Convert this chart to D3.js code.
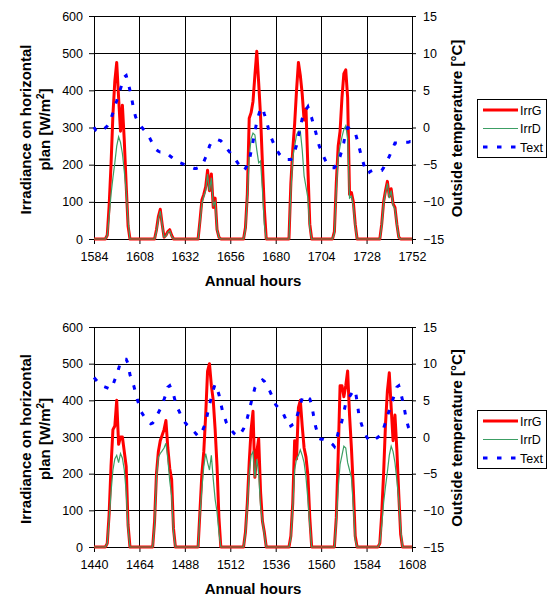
<!DOCTYPE html>
<html>
<head>
<meta charset="utf-8">
<script src="https://cdn.jsdelivr.net/npm/d3@7"></script>
<style>
  body { margin: 0; background: #fff; }
  svg { font-family: Arial, "Liberation Sans", sans-serif; }
</style>
</head>
<body>
<svg id="chart" width="548" height="596"></svg>
<script>
// Hourly readings, one row per day, starting at annual hour 1440 and ending at 1752.
const firstHour = 1440;

const irrG = [
  0,0,0,0,0,0,0,10,90,220,320,330,400,280,300,300,260,220,60,0,0,0,0,0,
  0,0,0,0,0,0,0,0,70,200,260,290,305,320,345,270,215,185,50,0,0,0,0,0,
  0,0,0,0,0,0,0,0,100,200,260,360,480,500,440,400,320,220,80,0,0,0,0,0,
  0,0,0,0,0,0,0,0,40,120,230,320,370,190,260,295,150,70,40,0,0,0,0,0,
  0,0,0,0,0,0,0,0,30,120,290,240,380,400,330,270,245,195,80,0,0,0,0,0,
  0,0,0,0,0,0,0,0,80,250,440,440,410,440,480,360,270,160,30,0,0,0,0,0,
  0,0,0,0,0,0,0,10,90,200,335,425,475,380,290,360,265,145,35,0,0,0,0,0,
  0,0,0,0,0,0,0,0,0,25,60,80,40,5,10,20,25,10,0,0,0,0,0,0,
  0,0,0,0,0,0,0,0,50,105,120,140,185,130,175,85,110,25,5,0,0,0,0,0,
  0,0,0,0,0,0,0,0,30,120,325,340,370,440,505,420,330,200,80,0,0,0,0,0,
  0,0,0,0,0,0,0,0,150,240,310,400,475,440,390,320,350,190,40,0,0,0,0,0,
  0,0,0,0,0,0,0,20,150,250,290,380,445,455,380,120,125,100,40,0,0,0,0,0,
  0,0,0,0,0,0,0,0,40,100,130,155,115,135,95,85,40,5,0,0,0,0,0,0,
  0
];

const irrD = [
  0,0,0,0,0,0,0,10,75,150,210,240,250,230,255,242,210,150,50,0,0,0,0,0,
  0,0,0,0,0,0,0,0,60,190,245,255,262,270,283,240,180,140,40,0,0,0,0,0,
  0,0,0,0,0,0,0,0,90,160,220,255,230,210,250,185,130,95,40,0,0,0,0,0,
  0,0,0,0,0,0,0,0,35,110,200,250,260,190,240,200,110,70,35,0,0,0,0,0,
  0,0,0,0,0,0,0,0,25,110,210,240,250,265,250,230,190,130,60,0,0,0,0,0,
  0,0,0,0,0,0,0,0,70,160,225,250,275,270,230,210,190,110,20,0,0,0,0,0,
  0,0,0,0,0,0,0,10,60,120,165,205,250,275,260,230,182,130,48,0,0,0,0,0,
  0,0,0,0,0,0,0,0,0,20,55,75,38,5,8,18,22,8,0,0,0,0,0,0,
  0,0,0,0,0,0,0,0,45,95,115,130,175,130,165,90,100,25,5,0,0,0,0,0,
  0,0,0,0,0,0,0,0,25,110,220,270,285,280,240,205,210,130,40,0,0,0,0,0,
  0,0,0,0,0,0,0,0,130,220,250,280,290,290,240,170,140,110,30,0,0,0,0,0,
  0,0,0,0,0,0,0,15,130,220,250,275,295,305,270,110,115,90,35,0,0,0,0,0,
  0,0,0,0,0,0,0,0,35,95,125,150,110,130,90,80,38,5,0,0,0,0,0,0,
  0
];

const tempOut = [
  8.1,7.8,7.5,7.2,7.0,6.9,6.8,6.7,6.6,6.5,7.1,7.8,8.5,9.3,10.2,10.5,10.6,10.6,10.0,8.5,7.7,7.0,6.0,5.0,
  4.2,3.4,3.0,2.6,2.3,2.0,1.8,1.9,2.3,2.8,3.3,3.8,4.4,5.1,5.9,6.8,7.0,6.4,5.8,4.8,4.0,3.5,2.9,2.3,
  2.0,1.7,1.5,1.3,1.0,0.7,0.4,0.1,0.2,0.7,1.3,1.9,3.2,4.4,5.4,6.4,7.2,6.6,5.8,4.6,3.4,2.7,1.9,1.4,
  1.1,0.8,0.5,0.3,0.1,0.4,0.7,1.1,1.8,2.6,3.6,4.7,5.7,6.7,7.1,7.4,7.6,7.8,7.6,7.2,6.7,6.2,5.6,5.0,
  4.4,4.1,3.8,3.5,3.2,2.6,2.0,1.4,1.5,1.7,1.8,2.6,3.5,4.4,5.3,5.7,5.5,5.4,5.2,4.4,2.9,1.5,0.6,-0.2,
  -0.3,-0.3,-0.4,-0.4,-0.6,-0.8,-1.0,-1.3,-0.5,0.6,1.4,2.2,3.4,4.6,5.0,5.5,5.9,6.3,6.4,4.8,2.9,2.0,1.2,0.6,
  0.05,-0.4,-0.6,-0.6,-0.4,-0.2,-0.05,0.2,0.6,1.2,2.0,2.9,3.6,4.4,5.2,6.0,6.8,7.0,6.1,5.0,3.8,2.4,1.4,0.9,
  0.5,0.1,-0.2,-0.5,-0.9,-1.2,-1.7,-2.2,-2.6,-3.0,-3.2,-3.3,-3.3,-3.3,-3.4,-3.6,-3.8,-4.0,-4.2,-4.5,-4.6,-4.7,-4.8,-4.9,
  -5.0,-5.1,-5.2,-5.3,-5.4,-5.5,-5.5,-5.4,-5.3,-5.1,-4.6,-4.0,-3.4,-2.5,-2.0,-1.8,-1.7,-1.6,-1.7,-1.8,-2.1,-2.5,-2.8,-3.1,
  -3.4,-3.8,-4.1,-4.4,-4.8,-5.1,-5.5,-5.8,-5.5,-5.0,-4.5,-3.2,-1.9,-0.6,0.8,1.7,2.5,2.7,1.8,1.0,0,-1.0,-1.6,-2.2,
  -2.8,-3.2,-3.6,-3.9,-4.2,-4.3,-4.3,-4.3,-4.3,-3.9,-3.2,-2.4,-1.2,0,1.2,1.8,2.4,2.8,2.0,1.3,0.3,-0.5,-1.5,-2.5,
  -3.1,-3.7,-4.3,-4.8,-5.0,-5.2,-5.4,-5.4,-5.0,-4.4,-3.9,-3.0,-2.0,-0.6,0,-0.1,-0.3,-0.5,-0.7,-1.6,-2.6,-3.6,-4.5,-5.4,
  -6.2,-6.1,-5.9,-5.8,-5.8,-5.8,-5.8,-5.8,-5.8,-5.4,-4.9,-4.4,-3.9,-3.3,-2.7,-2.1,-2.1,-2.1,-2.1,-2.0,-2.0,-2.0,-2.0,-1.9,
  -1.9
];

// Two windows of one week each (top panel, bottom panel)
const panelStarts = [1584, 1440];
const panelLength = 168;
const irrTicks = [0, 100, 200, 300, 400, 500, 600];
const tempTicks = [-15, -10, -5, 0, 5, 10, 15];
const seriesNames = ["IrrG", "IrrD", "Text"];

const colors = { irrG: "#ff0000", irrD: "#3c9e64", temp: "#0000ff" };
const tempDash = "4.5,9.5";

const svg = d3.select("#chart");
const plotLeft = 94, plotRight = 412;
const panelBoxes = [{ top: 16, bottom: 239 }, { top: 327, bottom: 547 }];

const rows = irrG.map((value, i) => ({
  hour: firstHour + i,
  irrG: value,
  irrD: irrD[i],
  temp: tempOut[i],
}));

panelStarts.forEach((start, idx) => drawPanel(start, panelBoxes[idx]));

function drawPanel(start, box) {
  const end = start + panelLength;
  const { top, bottom } = box;
  const g = svg.append("g");

  const x = d3.scaleLinear().domain([start, end]).range([plotLeft, plotRight]);
  const yIrr = d3.scaleLinear().domain([0, 600]).range([bottom, top]);
  const yTemp = d3.scaleLinear().domain([-15, 15]).range([bottom, top]);
  const hourTicks = d3.range(start, end + 1, 24);

  // Gridlines
  g.append("g").selectAll("line.h")
    .data(irrTicks)
    .join("line")
    .attr("x1", plotLeft).attr("x2", plotRight)
    .attr("y1", (v) => Math.round(yIrr(v)) + 0.5)
    .attr("y2", (v) => Math.round(yIrr(v)) + 0.5)
    .attr("stroke", "#000").attr("stroke-width", 1);

  g.append("g").selectAll("line.v")
    .data(hourTicks)
    .join("line")
    .attr("x1", (h) => Math.round(x(h)) + 0.5)
    .attr("x2", (h) => Math.round(x(h)) + 0.5)
    .attr("y1", top).attr("y2", bottom)
    .attr("stroke", "#000").attr("stroke-width", 1);

  // Axes
  const styleAxis = (sel) => {
    sel.selectAll("text").attr("font-size", 12.5).attr("fill", "#000")
      .attr("font-family", "Arial, 'Liberation Sans', sans-serif");
    sel.selectAll("line, path").attr("stroke", "#000");
  };

  g.append("g")
    .attr("transform", `translate(${plotLeft},0)`)
    .call(d3.axisLeft(yIrr).tickValues(irrTicks).tickSize(5).tickPadding(6).tickSizeOuter(0))
    .call(styleAxis);

  g.append("g")
    .attr("transform", `translate(${plotRight},0)`)
    .call(d3.axisRight(yTemp).tickValues(tempTicks).tickSize(4).tickPadding(7).tickSizeOuter(0))
    .call(styleAxis);

  g.append("g")
    .attr("transform", `translate(0,${bottom})`)
    .call(d3.axisBottom(x).tickValues(hourTicks).tickFormat(d3.format("d")).tickSize(5).tickPadding(8).tickSizeOuter(0))
    .call(styleAxis);

  // Series
  const data = rows.filter((r) => r.hour >= start && r.hour <= end);

  g.append("path")
    .datum(data)
    .attr("fill", "none")
    .attr("stroke", colors.irrG)
    .attr("stroke-width", 3)
    .attr("stroke-linejoin", "round")
    .attr("d", d3.line().x((r) => x(r.hour)).y((r) => yIrr(r.irrG)));

  g.append("path")
    .datum(data)
    .attr("fill", "none")
    .attr("stroke", colors.irrD)
    .attr("stroke-width", 1.2)
    .attr("d", d3.line().x((r) => x(r.hour)).y((r) => yIrr(r.irrD)));

  g.append("path")
    .datum(data)
    .attr("fill", "none")
    .attr("stroke", colors.temp)
    .attr("stroke-width", 3)
    .attr("stroke-dasharray", tempDash)
    .attr("d", d3.line().x((r) => x(r.hour)).y((r) => yTemp(r.temp)));

  // Axis titles
  const midY = (top + bottom) / 2 + 2;
  g.append("text")
    .attr("x", (plotLeft + plotRight) / 2)
    .attr("y", bottom + 47)
    .attr("text-anchor", "middle")
    .attr("font-size", 15).attr("font-weight", "bold")
    .text("Annual hours");

  const leftTitle = g.append("text")
    .attr("transform", `translate(31,${midY}) rotate(-90)`)
    .attr("text-anchor", "middle")
    .attr("font-size", 15).attr("font-weight", "bold");
  leftTitle.append("tspan").attr("x", 0).attr("y", 0).text("Irradiance on horizontal");
  const line2 = g.append("text")
    .attr("transform", `translate(50,${midY}) rotate(-90)`)
    .attr("text-anchor", "middle")
    .attr("font-size", 15).attr("font-weight", "bold");
  line2.append("tspan").text("plan [W/m");
  line2.append("tspan").attr("font-size", 10).attr("dy", -6).text("2");
  line2.append("tspan").attr("dy", 6).text("]");

  g.append("text")
    .attr("transform", `translate(462,${midY - 1}) rotate(-90)`)
    .attr("text-anchor", "middle")
    .attr("font-size", 15).attr("font-weight", "bold")
    .text("Outside temperature [°C]");

  // Legend
  const legendTop = top + 83;
  const legend = g.append("g").attr("transform", `translate(477,${legendTop})`);
  legend.append("rect")
    .attr("x", 0.5).attr("y", 0.5)
    .attr("width", 69).attr("height", 58)
    .attr("fill", "#fff").attr("stroke", "#000");

  const legendStyles = [
    { color: colors.irrG, width: 3, dash: null },
    { color: colors.irrD, width: 1.2, dash: null },
    { color: colors.temp, width: 3, dash: tempDash },
  ];
  seriesNames.forEach((name, i) => {
    const ly = 11 + i * 18.5;
    legend.append("line")
      .attr("x1", 6).attr("x2", 41)
      .attr("y1", ly).attr("y2", ly)
      .attr("stroke", legendStyles[i].color)
      .attr("stroke-width", legendStyles[i].width)
      .attr("stroke-dasharray", legendStyles[i].dash);
    legend.append("text")
      .attr("x", 43).attr("y", ly + 4.5)
      .attr("font-size", 12.5)
      .text(name);
  });
}
</script>
</body>
</html>
